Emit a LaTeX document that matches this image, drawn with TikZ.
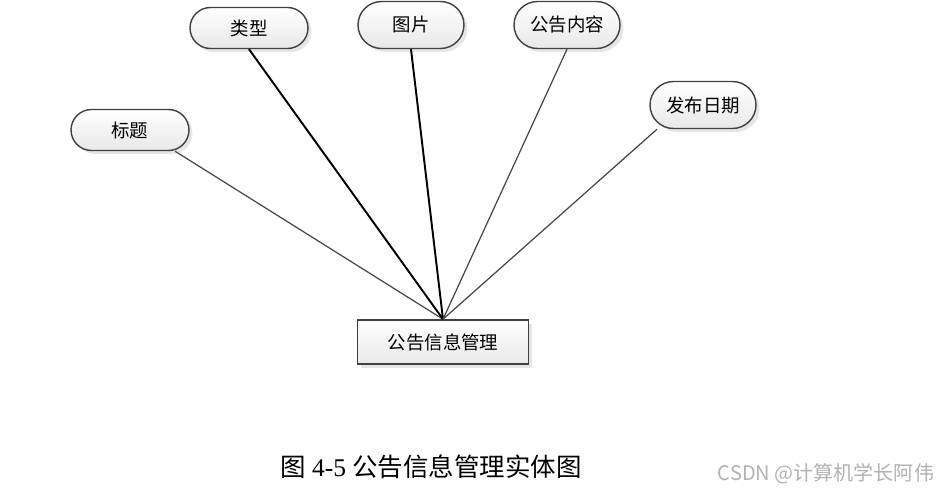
\documentclass[tikz,border=0pt]{standalone}
\usepackage{fontspec}
\setmainfont{Liberation Serif}
\newfontfamily\cjk{Noto Sans CJK SC}
\usetikzlibrary{shapes.misc,shadows}

\begin{document}
\begin{tikzpicture}[x=0.02cm, y=-0.02cm,
  attr/.style={rounded rectangle, draw=black!75, line width=0.8pt,
    top color=white, bottom color=black!9,
    drop shadow={opacity=0.2, shadow xshift=2pt, shadow yshift=-2pt},
    minimum width=2.12cm, minimum height=0.94cm, inner sep=0pt,
    font=\cjk\fontsize{10.5}{12}\selectfont},
  wideattr/.style={attr, minimum width=2.36cm, minimum height=0.82cm},
  ent/.style={rectangle, draw=black!75, line width=0.9pt,
    top color=white, bottom color=black!9,
    drop shadow={opacity=0.2, shadow xshift=2pt, shadow yshift=-2pt},
    minimum width=3.42cm, minimum height=0.88cm, inner sep=0pt,
    font=\cjk\fontsize{10.5}{12}\selectfont},
  link/.style={draw=black!72, line width=0.7pt},
  boldlink/.style={draw=black, line width=1.1pt}]
\useasboundingbox (0,0) rectangle (938,490);

\node[ent] (gonggao) at (443,342) {公告信息管理};

\node[wideattr] (biaoti) at (130,130) {标题};
\node[wideattr] (leixing) at (249,28) {类型};
\node[attr] (tupian) at (411,25) {图片};
\node[attr] (neirong) at (567,25) {公告内容};
\node[attr] (riqi) at (703,105) {发布日期};

\draw[link] ([xshift=0.9cm]biaoti.south) -- (gonggao.north);
\draw[boldlink] (leixing.south) -- (gonggao.north);
\draw[boldlink] (tupian.south) -- (gonggao.north);
\draw[link] (neirong.south) -- (gonggao.north);
\draw[link] ([xshift=-0.92cm]riqi.south) -- (gonggao.north);

% caption
\node[inner sep=0pt, font=\fontsize{14.5}{17}\selectfont] (caption) at (431,467)
  {{\cjk 图} 4-5 {\cjk 公告信息管理实体图}};
\node[inner sep=0pt, text=black!30, font=\cjk\fontsize{11.4}{13}\selectfont] (mark) at (826,474)
  {CSDN @计算机学长阿伟};
\end{tikzpicture}
\end{document}
